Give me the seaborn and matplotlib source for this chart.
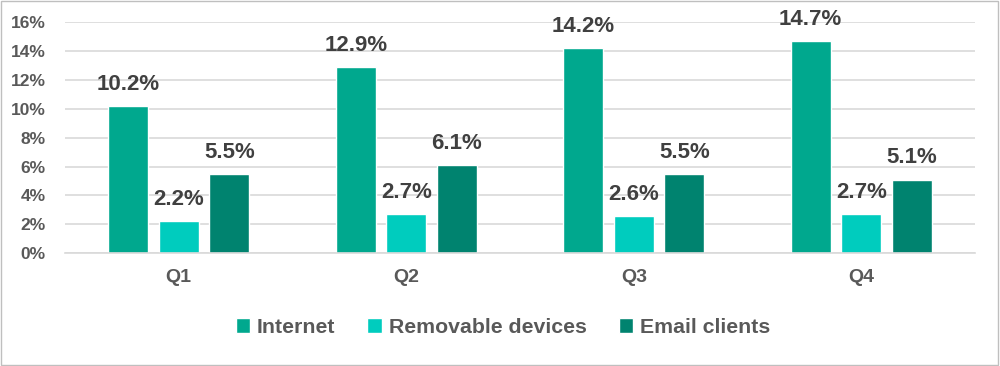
import pandas as pd
import matplotlib.pyplot as plt
import seaborn as sns
from matplotlib.patches import Rectangle

# data
quarters = ['Q1', 'Q2', 'Q3', 'Q4']
series = ['Internet', 'Removable devices', 'Email clients']
internet = [10.2, 12.9, 14.2, 14.7]
removable = [2.2, 2.7, 2.6, 2.7]
email = [5.5, 6.1, 5.5, 5.1]
colors = ['#00A88E', '#00CCBE', '#00836F']

rows = []
for name, vals in zip(series, [internet, removable, email]):
    for q, v in zip(quarters, vals):
        rows.append({'Quarter': q, 'Vector': name, 'Share': v})
df = pd.DataFrame(rows)

sns.set_style('white')
plt.rcParams['font.family'] = ['Liberation Sans', 'DejaVu Sans']
text_color = '#595959'

fig = plt.figure(figsize=(10, 3.66), dpi=100)
ax = fig.add_axes([0.065, 0.308, 0.91, 0.632])

sns.barplot(data=df, x='Quarter', y='Share', hue='Vector', palette=colors,
            width=0.666, gap=0.21, saturation=1, ax=ax, legend=True)

for container in ax.containers:
    ax.bar_label(container, labels=[f'{v:.1f}%' for v in container.datavalues],
                 padding=8, fontsize=16, fontweight='bold', color='#404040')

ax.set_ylim(0, 16)
ax.set_yticks(range(0, 17, 2))
ax.set_yticklabels([f'{t}%' for t in range(0, 17, 2)])
ax.set_xlim(-0.5, 3.5)
ax.yaxis.grid(True, color='#D9D9D9', linewidth=1.2)
ax.set_axisbelow(True)
for s in ['top', 'right', 'left']:
    ax.spines[s].set_visible(False)
ax.spines['bottom'].set_color('#D9D9D9')
ax.spines['bottom'].set_linewidth(1.2)
ax.tick_params(axis='both', length=0, colors=text_color)
for lbl in ax.get_yticklabels():
    lbl.set_fontsize(12.5)
    lbl.set_fontweight('bold')
for lbl in ax.get_xticklabels():
    lbl.set_fontsize(14)
    lbl.set_fontweight('bold')
ax.tick_params(axis='x', pad=11)
ax.tick_params(axis='y', pad=14)
ax.set_xlabel('')
ax.set_ylabel('')

handles, labels = ax.get_legend_handles_labels()
ax.legend(handles, labels, loc='center', bbox_to_anchor=(0.503, 0.105),
          bbox_transform=fig.transFigure,
          ncol=3, frameon=False, handlelength=0.68, handleheight=0.68,
          handletextpad=0.33, columnspacing=1.5,
          prop={'size': 15.3, 'weight': 'bold'}, labelcolor=text_color)

fig.patches.append(Rectangle((0.001, 0.002), 0.997, 0.995, transform=fig.transFigure,
                             fill=False, edgecolor='#BFBFBF', linewidth=1))

fig.savefig('out.png', dpi=100)
